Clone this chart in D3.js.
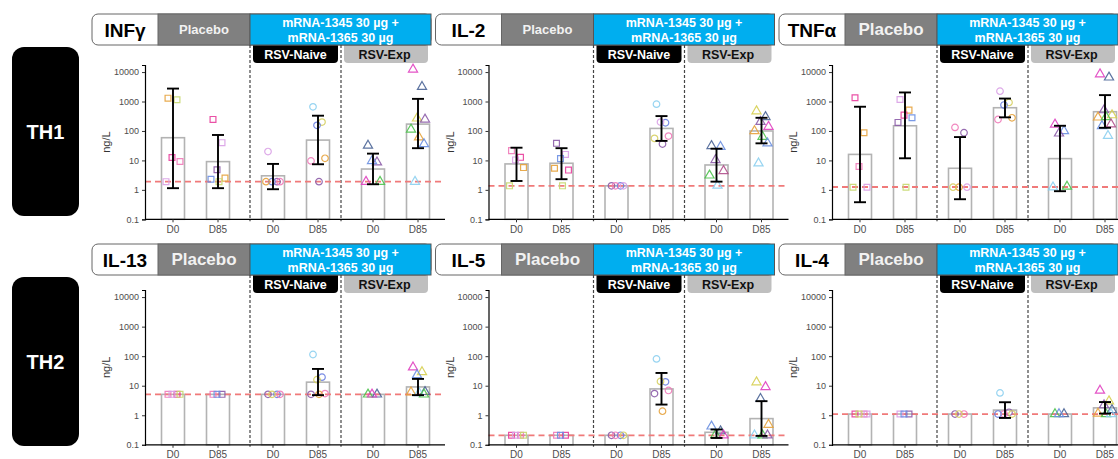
<!DOCTYPE html>
<html><head><meta charset="utf-8">
<script src="https://cdn.jsdelivr.net/npm/d3@7"></script>
<style>body{margin:0;background:#fff;} svg{display:block;font-family:"Liberation Sans", Arial, sans-serif;}</style>
</head><body><svg id="c" width="1118" height="459"></svg>
<script>
// ---------- DATA ----------
const cytokines = ["INFγ", "IL-2", "TNFα", "IL-13", "IL-5", "IL-4"];
const rowLabels = ["TH1", "TH2"];
const groups = ["Placebo", "RSV-Naive", "RSV-Exp"];
const days = ["D0", "D85"];
const vaccineLabel = ["mRNA-1345 30 µg +", "mRNA-1365 30 µg"];
const yTicks = [0.1, 1, 10, 100, 1000, 10000];
const yLabel = "ng/L";
const lloq = [1.9, 1.37, 1.25, 5.1, 0.21, 1.1];
// per cytokine: Placebo D0, Placebo D85, Naive D0, Naive D85, Exp D0, Exp D85
const geoMean = [
  [59, 9.1, 3.0, 49, 5.1, 171],
  [7.6, 8.0, 1.37, 122, 7.0, 100],
  [16, 150, 5.4, 615, 11.5, 450],
  [5.1, 5.1, 5.1, 13.2, 5.1, 9.1],
  [0.21, 0.21, 0.21, 7.8, 0.265, 0.77],
  [1.1, 1.1, 1.1, 1.5, 1.1, 1.78]
];
const ciLow = [
  [1.14, 1.14, 1.05, 7.4, 1.55, 26],
  [2.0, 2.3, 1.37, 46, 1.9, 38],
  [0.38, 11.8, 0.48, 290, 0.9, 128],
  [5.1, 5.1, 5.1, 4.8, 5.1, 4.8],
  [0.21, 0.21, 0.21, 2.3, 0.17, 0.2],
  [1.1, 1.1, 1.1, 0.81, 1.1, 1.14]
];
const ciHigh = [
  [2750, 73, 7.6, 330, 17, 1230],
  [27, 26, 1.37, 320, 25, 280],
  [665, 2030, 62, 1260, 150, 1650],
  [5.1, 5.1, 5.1, 37, 5.1, 17],
  [0.21, 0.21, 0.21, 27, 0.33, 3.0],
  [1.1, 1.1, 1.1, 2.76, 1.1, 2.8]
];
// individual participants: [participant, value]
const pointsINFg = [
  [["P2",1300],["P6",1150],["P1",12.5],["P4",9.2],["P3",1.9]],
  [["P1",247],["P3",40],["P7",4.8],["P2",2.5],["P5",2.3],["P6",1.9]],
  [["N7",20],["N6",1.9],["N2",1.9],["N5",1.9],["N4",1.9]],
  [["N1",660],["N3",200],["N2",155],["N4",11.8],["N5",9.6],["N6",1.9]],
  [["E1",32],["E2",8.6],["E3",9.6],["E4",1.9],["E5",1.9]],
  [["E5",12300],["E1",3160],["E6",268],["E2",247],["E4",113],["E8",61],["E3",36],["E7",1.9]]
];
const pointsIL2 = [
  [["P4",21.5],["P1",12.7],["P3",10.4],["P2",5.7],["P6",1.37]],
  [["P7",38],["P3",16],["P5",11.5],["P1",4.7],["P2",5.4],["P6",1.37]],
  [["N6",1.37],["N2",1.37],["N5",1.37],["N7",1.37]],
  [["N1",815],["N2",190],["N7",200],["N5",67],["N3",56],["N6",36]],
  [["E1",31],["E3",29],["E2",10.4],["E9",4.4],["E4",3.1],["E7",1.4]],
  [["E6",470],["E1",300],["E2",205],["E5",140],["E8",100],["E4",64],["E3",38],["E7",8]]
];
const pointsTNFa = [
  [["P1",1340],["P2",87],["P4",6.2],["P3",1.23],["P6",1.23]],
  [["P3",1170],["P2",510],["P1",345],["P5",280],["P7",195],["P6",1.23]],
  [["N5",132],["N6",87],["N4",1.23],["N7",1.23],["N3",1.23]],
  [["N7",2240],["N3",930],["N2",760],["N4",280],["N5",245]],
  [["E5",167],["E3",100],["E2",83],["E4",1.3],["E7",1.23]],
  [["E5",8500],["E1",6600],["E2",510],["E6",345],["E8",290],["E4",300],["E9",170],["E3",147],["E7",69]]
];
const pointsIL13 = [
  [["P4",5.1],["P1",5.1],["P3",5.1],["P6",5.1]],
  [["P4",5.1],["P7",5.1],["P5",5.1]],
  [["N6",5.1],["N2",5.1],["N3",5.1],["N5",5.1]],
  [["N1",114],["N2",19.5],["N3",16],["N5",5.4],["N6",5.1],["N4",5.1]],
  [["E4",5.1],["E1",5.1],["E5",5.1]],
  [["E5",42],["E6",29],["E3",23],["E1",6.2],["E8",6],["E7",5.7],["E4",5.1]]
];
const pointsIL5 = [
  [["P1",0.21],["P4",0.21],["P3",0.21],["P6",0.21]],
  [["P4",0.21],["P1",0.21],["P5",0.21]],
  [["N6",0.21],["N2",0.21],["N5",0.21],["N3",0.21]],
  [["N1",81],["N2",13.5],["N3",14],["N5",6.9],["N6",5.4],["N4",1.37]],
  [["E3",0.42],["E1",0.29],["E4",0.22],["E5",0.21]],
  [["E6",13.2],["E5",9.1],["E1",3.6],["E8",0.48],["E7",0.21],["E4",0.21],["E2",0.21]]
];
const pointsIL4 = [
  [["P1",1.1],["P4",1.1],["P6",1.1],["P3",1.1]],
  [["P3",1.1],["P7",1.1],["P5",1.1]],
  [["N6",1.1],["N5",1.1],["N3",1.1]],
  [["N1",5.7],["N6",1.26],["N5",1.1],["N3",1.1],["N2",1.1]],
  [["E4",1.1],["E1",1.1],["E3",1.1]],
  [["E5",6.9],["E6",3.0],["E2",2.2],["E1",1.5],["E8",1.14],["E4",1.1],["E7",1.1]]
];
const allPoints = [pointsINFg, pointsIL2, pointsTNFa, pointsIL13, pointsIL5, pointsIL4];

// ---------- STYLE / LAYOUT ----------
const participantIds = ["P1","P2","P3","P4","P5","P6","P7","N1","N2","N3","N4","N5","N6","N7","E1","E2","E3","E4","E5","E6","E7","E8","E9"];
const participantColors = ["#e83e9c","#e6a23c","#d9a0e6","#f07ab8","#6b8fe3","#c8d870","#8c5ca8",
  "#8ccff0","#6a7fe0","#d6cf60","#e6a23c","#f07ab8","#8c5ca8","#d9a0e6",
  "#4a6496","#8c5ca8","#6a8fe0","#4cc24c","#e040c0","#d6cf50","#8ccff0","#e6a23c","#b0508c"];
const color = d3.scaleOrdinal(participantIds, participantColors);
const shape = d3.scaleOrdinal(groups, [d3.symbolSquare, d3.symbolCircle, d3.symbolTriangle]);
const shapeSize = d3.scaleOrdinal(groups, [34, 34, 36]);
const jitter = [-5, 4, -1, 7, -7, 1, 6, -3, 3];
const placeboFont = [13, 13, 17, 17, 17, 17];

const colAxisX = [145, 488.5, 832];
const rows = [{head: 14, top: 65, base: 219.3}, {head: 244, top: 290, base: 444.8}];
const plotW = 300;
const dividerShift = [4.5, -4.5];

const svg = d3.select("#c");

// row labels
rowLabels.forEach((lab, r) => {
  const R = rows[r];
  const g = svg.append("g");
  g.append("rect").attr("x", 12).attr("y", R.head + 33).attr("width", 67).attr("height", 169)
    .attr("rx", 12).attr("fill", "#000");
  g.append("text").attr("x", 45.5).attr("y", R.head + 117.5).attr("text-anchor", "middle")
    .attr("dominant-baseline", "central").attr("fill", "#fff").attr("font-weight", "bold")
    .attr("font-size", 20).text(lab);
});

cytokines.forEach((cyt, i) => {
  const r = Math.floor(i / 3), c = i % 3;
  const R = rows[r];
  const g = svg.append("g").attr("transform", `translate(${colAxisX[c]},0)`);

  const y = d3.scaleLog().domain([0.1, Math.pow(10, 4.24)]).range([R.base, R.top]);
  const xGroup = d3.scaleBand().domain(groups).range([0.5, plotW + 0.5]);
  const xDay = d3.scalePoint().domain(days).range([27.5, 72.5]);
  const cats = [];
  groups.forEach(gr => days.forEach(d => cats.push({group: gr, day: d, x: xGroup(gr) + xDay(d)})));
  const div1 = xGroup(groups[1]) + dividerShift[0];
  const div2 = xGroup(groups[2]) + dividerShift[1];

  // sub headers
  const sh = R.head + 26, shH = 23;
  g.append("rect").attr("x", div1 + 3).attr("y", sh).attr("width", div2 - div1 - 6).attr("height", shH)
    .attr("rx", 4).attr("fill", "#000");
  g.append("rect").attr("x", div2 + 3).attr("y", sh).attr("width", 283 - div2 - 3).attr("height", shH)
    .attr("rx", 4).attr("fill", "#bfbfbf");
  g.append("text").attr("x", (div1 + div2) / 2).attr("y", R.head + 40.5).attr("text-anchor", "middle")
    .attr("dominant-baseline", "central").attr("fill", "#fff").attr("font-weight", "bold")
    .attr("font-size", 12.5).text(groups[1]);
  g.append("text").attr("x", (div2 + 283) / 2).attr("y", R.head + 40.5).attr("text-anchor", "middle")
    .attr("dominant-baseline", "central").attr("fill", "#111").attr("font-weight", "bold")
    .attr("font-size", 12.5).text(groups[2]);

  // header
  const hx0 = -53, hH = 31;
  g.append("rect").attr("x", hx0).attr("y", R.head).attr("width", 286 - hx0).attr("height", hH)
    .attr("rx", 6).attr("fill", "#fff").attr("stroke", "#666").attr("stroke-width", 1);
  g.append("rect").attr("x", 13).attr("y", R.head).attr("width", div1 - 13).attr("height", hH)
    .attr("fill", "#808080").attr("stroke", "#666").attr("stroke-width", 1);
  g.append("rect").attr("x", div1).attr("y", R.head).attr("width", 286 - div1).attr("height", hH)
    .attr("fill", "#00aeef").attr("stroke", "#555").attr("stroke-width", 1);
  g.append("text").attr("x", (hx0 + 13) / 2).attr("y", R.head + hH / 2 + 0.5).attr("text-anchor", "middle")
    .attr("dominant-baseline", "central").attr("fill", "#000").attr("font-weight", "bold")
    .attr("font-size", 19).text(cyt);
  g.append("text").attr("x", (13 + div1) / 2).attr("y", R.head + hH / 2).attr("text-anchor", "middle")
    .attr("dominant-baseline", "central").attr("fill", "#f2f2f2").attr("font-weight", "bold")
    .attr("font-size", placeboFont[i]).text(groups[0]);
  vaccineLabel.forEach((t, k) => {
    g.append("text").attr("x", (div1 + 286) / 2).attr("y", R.head + 8.5 + k * 15).attr("text-anchor", "middle")
      .attr("dominant-baseline", "central").attr("fill", "#fff").attr("font-weight", "bold")
      .attr("font-size", 12.5).text(t);
  });

  // dividers
  [div1, div2].forEach(dx => {
    g.append("line").attr("x1", dx).attr("x2", dx).attr("y1", R.head + hH).attr("y2", R.base + 2)
      .attr("stroke", "#444").attr("stroke-width", 1.2).attr("stroke-dasharray", "3,2");
  });

  // bars
  const bw = 23;
  g.selectAll("rect.bar").data(cats).join("rect").attr("class", "bar")
    .attr("x", d => d.x - bw / 2).attr("width", bw)
    .attr("y", (d, k) => y(geoMean[i][k])).attr("height", (d, k) => R.base - y(geoMean[i][k]))
    .attr("fill", "#fff").attr("stroke", "#b3b3b3").attr("stroke-width", 1.6);

  // LLOQ
  g.append("line").attr("x1", 0).attr("x2", plotW).attr("y1", y(lloq[i])).attr("y2", y(lloq[i]))
    .attr("stroke", "#f07a7a").attr("stroke-width", 1.8).attr("stroke-dasharray", "6,4");

  // points
  cats.forEach((cat, k) => {
    allPoints[i][k].forEach((p, j) => {
      g.append("path")
        .attr("d", d3.symbol().type(shape(cat.group)).size(shapeSize(cat.group))())
        .attr("transform", `translate(${cat.x + jitter[j % jitter.length]},${y(p[1])})`)
        .attr("fill", "none").attr("stroke", color(p[0])).attr("stroke-width", 1.2).attr("opacity", 0.9);
    });
  });

  // error bars
  cats.forEach((cat, k) => {
    const lo = ciLow[i][k], hi = ciHigh[i][k];
    if (hi <= lo) return;
    const eg = g.append("g").attr("stroke", "#000").attr("stroke-width", 1.9);
    eg.append("line").attr("x1", cat.x).attr("x2", cat.x).attr("y1", y(lo)).attr("y2", y(hi));
    [lo, hi].forEach(v => eg.append("line").attr("x1", cat.x - 6).attr("x2", cat.x + 6).attr("y1", y(v)).attr("y2", y(v)));
  });

  // y axis
  const ya = g.append("g").call(d3.axisLeft(y).tickValues(yTicks).tickSizeOuter(0).tickSize(3)
    .tickFormat(d => d < 1 ? String(d) : d3.format("d")(d)));
  ya.select(".domain").attr("stroke", "#000").attr("stroke-width", 1.2);
  ya.selectAll(".tick line").attr("stroke", "#333");
  ya.selectAll(".tick text").attr("fill", "#4d4d4d").attr("font-size", 9).attr("font-family", "Liberation Sans, Arial, sans-serif");

  g.append("text").attr("transform", `translate(-39,${(R.top + R.base) / 2}) rotate(-90)`)
    .attr("text-anchor", "middle").attr("dominant-baseline", "central").attr("font-size", 11)
    .attr("fill", "#333").text(yLabel);

  // x axis
  g.append("line").attr("x1", 0).attr("x2", plotW).attr("y1", R.base).attr("y2", R.base)
    .attr("stroke", "#000").attr("stroke-width", 1.2);
  const xt = g.selectAll("g.xt").data(cats).join("g").attr("class", "xt")
    .attr("transform", d => `translate(${d.x},${R.base})`);
  xt.append("line").attr("y1", 0).attr("y2", 3).attr("stroke", "#333");
  xt.append("text").attr("y", 10).attr("text-anchor", "middle").attr("dominant-baseline", "central")
    .attr("font-size", 10).attr("fill", "#4d4d4d").text(d => d.day);
});
</script></body></html>
